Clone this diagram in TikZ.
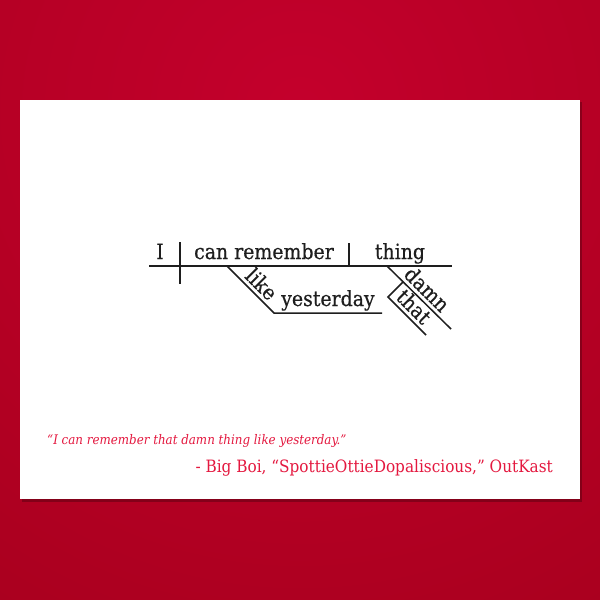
\documentclass[tikz,border=0pt]{standalone}
\usepackage{fontspec}
\setmainfont{DejaVu Serif}
\newfontfamily\dfont[FakeStretch=0.9,FakeBold=0.4]{DejaVu Serif}
\newfontfamily\qfont[FakeStretch=0.9]{DejaVu Serif}
\definecolor{bgA}{HTML}{A9001E}
\definecolor{bgB}{HTML}{C4002C}
\definecolor{ink}{HTML}{1E1E1E}
\definecolor{quotecol}{HTML}{E4183F}
\begin{document}
\begin{tikzpicture}[x=1pt,y=-1pt,
  word/.style={font=\dfont\fontsize{21}{21}\selectfont, text=ink, inner sep=0pt},
  rule/.style={draw=ink, line width=1.5pt},
  qsmall/.style={font=\qfont\itshape\fontsize{13.2}{13.2}\selectfont, text=quotecol, inner sep=0pt},
  qbig/.style={font=\qfont\fontsize{17}{17}\selectfont, text=quotecol, inner sep=0pt}]
\useasboundingbox (0,0) rectangle (600,600);
\fill[bgA] (0,0) rectangle (600,600);
\begin{scope}
\clip (0,0) rectangle (600,600);
\shade[inner color=bgB, outer color=bgA] (300,110) circle (600pt);
\end{scope}
\fill[black, opacity=.25] (22,102) rectangle (582,502);
\fill[white] (20,100) rectangle (580,499);

% main line
\coordinate (L0) at (149,266);
\coordinate (L1) at (452,266);
\coordinate (D1t) at (180,242);
\coordinate (D1b) at (180,284);
\coordinate (D2t) at (349,243);
\coordinate (D2b) at (349,266);
\draw[rule] (L0) -- (L1);
\draw[rule] (D1t) -- (D1b);
\draw[rule] (D2t) -- (D2b);
\node[word, anchor=base] (subj) at (160,259) {I};
\node[word, anchor=base] (verb) at (264,259) {can remember};
\node[word, anchor=base] (obj) at (400,259) {thing};

% like yesterday
\coordinate (K0) at (227,266);
\coordinate (K1) at (274,313);
\coordinate (K2) at (382,313);
\draw[rule] (K0) -- node[word, sloped, above=3pt, pos=0.56] (like) {like} (K1) -- (K2);
\node[word, anchor=base] (yest) at (328,306) {yesterday};

% damn
\coordinate (M0) at (387,266);
\coordinate (M1) at (451,329);
\draw[rule] (M0) -- node[word, sloped, above=3pt, pos=0.5] (damn) {damn} (M1);

% that
\coordinate (T0) at (403,282);
\coordinate (T1) at (388,297);
\coordinate (T2) at (426,335);
\draw[rule] (T0) -- (T1) -- node[word, sloped, above=3pt, pos=0.47] (that) {that} (T2);

% quote
\node[qsmall, anchor=base west] (q) at (47,444) {“I can remember that damn thing like yesterday.”};
\node[qbig, anchor=base east] (attr) at (553,472) {- Big Boi, “SpottieOttieDopaliscious,” OutKast};
\end{tikzpicture}
\end{document}
